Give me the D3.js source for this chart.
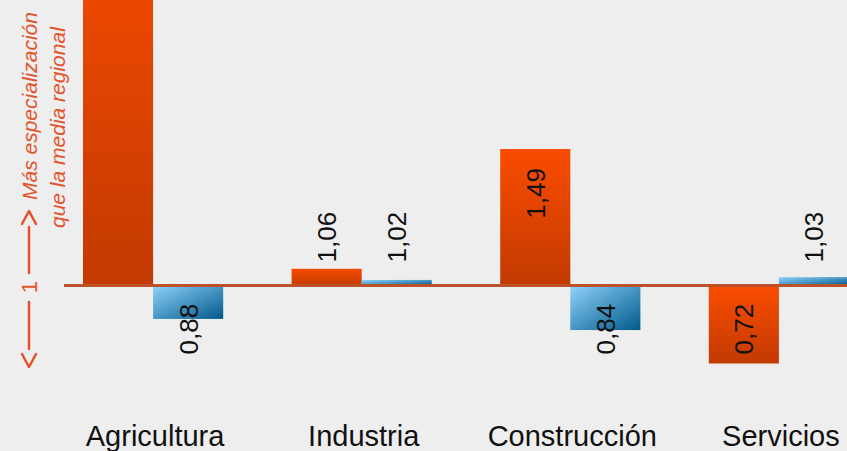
<!DOCTYPE html>
<html>
<head>
<meta charset="utf-8">
<script src="https://cdn.jsdelivr.net/npm/d3@7"></script>
<style>
  body { margin: 0; background: #eeeeee; }
  svg { display: block; }
</style>
</head>
<body>
<svg id="chart" width="847" height="451"></svg>
<script>
// datos del grafico
var categorias = ['Agricultura', 'Industria', 'Construcción', 'Servicios'];
var series = ['comarca', 'region'];
var valoresComarca = [2.4, 1.06, 1.49, 0.72]; // agricultura sale cortada arriba
var valoresRegion = [0.88, 1.02, 0.84, 1.03];
var referencia = 1;

var svg = d3.select('#chart');
var W = 847, H = 451;

var fmt = d3.formatLocale({decimal: ',', thousands: '.', grouping: [3], currency: ['', '€']}).format('.2f');

// escalas
var x0 = d3.scaleBand().domain(categorias).range([83, 849]).paddingInner(0.328).paddingOuter(0);
var x1 = d3.scaleBand().domain(series).range([0, x0.bandwidth()]);
var y = d3.scaleLinear().domain([0, 2]).range([564, 7]);

// gradientes
var defs = svg.append('defs');
var gNar = defs.append('linearGradient').attr('id', 'gradNaranja')
    .attr('x1', 0).attr('y1', 0).attr('x2', 0).attr('y2', 1);
gNar.append('stop').attr('offset', '0%').attr('stop-color', '#fa4c00');
gNar.append('stop').attr('offset', '100%').attr('stop-color', '#c23a02');

var gAz = defs.append('linearGradient').attr('id', 'gradAzul')
    .attr('x1', 0).attr('y1', 0).attr('x2', 1).attr('y2', 1);
gAz.append('stop').attr('offset', '0%').attr('stop-color', '#8fd3fb');
gAz.append('stop').attr('offset', '100%').attr('stop-color', '#00598b');

var filas = categorias.map(function(c, i){
    return {cat: c, vals: [
        {serie: 'comarca', v: valoresComarca[i]},
        {serie: 'region', v: valoresRegion[i]}
    ]};
});

var grupos = svg.selectAll('g.grupo').data(filas).enter().append('g')
    .attr('class', 'grupo')
    .attr('transform', function(d){ return 'translate(' + x0(d.cat) + ',0)'; });

grupos.selectAll('rect').data(function(d){ return d.vals; }).enter().append('rect')
    .attr('x', function(d){ return x1(d.serie); })
    .attr('width', x1.bandwidth())
    .attr('y', function(d){ return Math.min(y(d.v), y(referencia)); })
    .attr('height', function(d){ return Math.abs(y(d.v) - y(referencia)); })
    .attr('fill', function(d){ return d.serie === 'comarca' ? 'url(#gradNaranja)' : 'url(#gradAzul)'; });

// linea de referencia (=1)
svg.append('line')
    .attr('x1', 64).attr('x2', W)
    .attr('y1', y(referencia)).attr('y2', y(referencia))
    .attr('stroke', '#bb5229').attr('stroke-width', 3);

// posicion de la etiqueta (en vertical) segun el valor
function posEtiqueta(d){
    if (d.v >= referencia && y(referencia) - y(d.v) > 80) return y(d.v) + 19;
    if (d.v >= referencia) return y(referencia) - 23;
    return y(referencia) + 69;
}

// etiquetas de valor, giradas -- la de agricultura queda fuera del cuadro, no se pinta
grupos.selectAll('text.valor')
    .data(function(d){ return d.vals.filter(function(e){ return posEtiqueta(e) > 60; }); })
    .enter().append('text')
    .attr('class', 'valor')
    .attr('transform', function(d){
        var cx = x1(d.serie) + x1.bandwidth() / 2;
        return 'translate(' + cx + ',' + posEtiqueta(d) + ') rotate(-90)';
    })
    .attr('text-anchor', function(d){
        return (d.v >= referencia && y(referencia) - y(d.v) > 80) ? 'end' : 'start';
    })
    .attr('dy', '0.36em')
    .style('font-family', '"Liberation Sans", Arial, sans-serif')
    .style('font-size', '26px')
    .style('fill', '#111')
    .text(function(d){ return fmt(d.v); });

// nombres de sector
svg.selectAll('text.cat').data(categorias).enter().append('text')
    .attr('class', 'cat')
    .attr('x', function(d){ return x0(d) + x0.bandwidth() / 2 + 2; })
    .attr('y', 446)
    .attr('text-anchor', 'middle')
    .style('font-family', '"Liberation Sans", Arial, sans-serif')
    .style('font-size', '29px')
    .style('fill', '#111')
    .text(function(d){ return d; });

// anotacion lateral: <-- 1 --> Mas especializacion
var naranja = '#e2532a';
var ax = 29;
var ann = svg.append('g').attr('stroke', naranja).attr('stroke-width', 2.5).attr('fill', 'none')
    .attr('stroke-linecap', 'round').attr('stroke-linejoin', 'round');
ann.append('line').attr('x1', ax).attr('x2', ax).attr('y1', 227).attr('y2', 273);
ann.append('line').attr('x1', ax).attr('x2', ax).attr('y1', 302).attr('y2', 349);
ann.append('polyline').attr('points', (ax - 7) + ',224 ' + ax + ',211 ' + (ax + 7) + ',224');
ann.append('polyline').attr('points', (ax - 7) + ',354 ' + ax + ',367 ' + (ax + 7) + ',354');

svg.append('text')
    .attr('transform', 'translate(' + ax + ',287) rotate(-90)')
    .attr('text-anchor', 'middle')
    .attr('dy', '0.36em')
    .style('font-family', '"Liberation Sans", Arial, sans-serif')
    .style('font-size', '22px')
    .style('fill', naranja)
    .text('1');

svg.append('text')
    .attr('transform', 'translate(37,200) rotate(-90)')
    .style('font-family', '"Liberation Sans", Arial, sans-serif')
    .style('font-size', '21px')
    .style('font-style', 'italic')
    .style('fill', naranja)
    .text('Más especialización');

svg.append('text')
    .attr('transform', 'translate(65,228) rotate(-90)')
    .style('font-family', '"Liberation Sans", Arial, sans-serif')
    .style('font-size', '21px')
    .style('font-style', 'italic')
    .style('fill', naranja)
    .text('que la media regional');
</script>
</body>
</html>
